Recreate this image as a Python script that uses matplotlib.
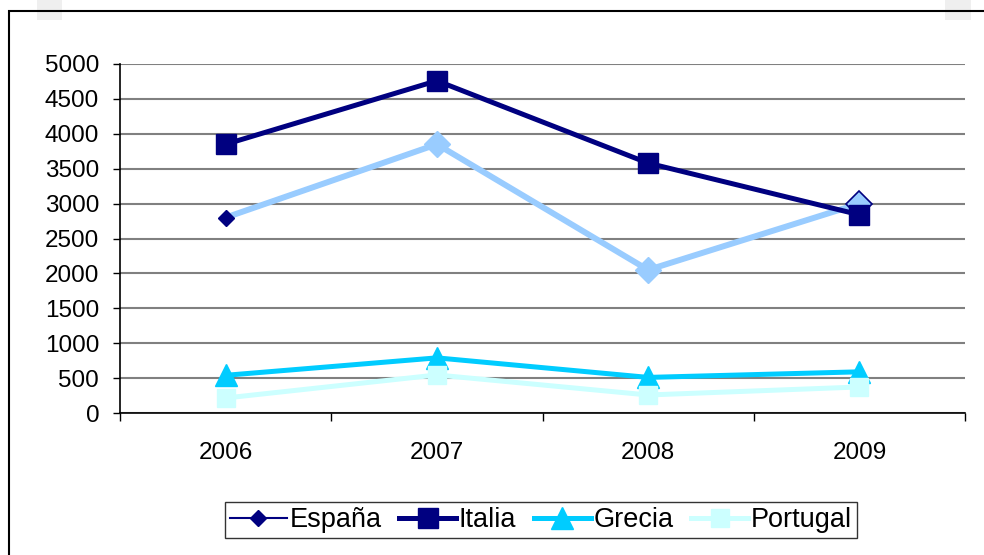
import matplotlib
matplotlib.use("Agg")
import matplotlib.pyplot as plt
from matplotlib.patches import Rectangle
from matplotlib.lines import Line2D

plt.rcParams['font.family'] = ['Liberation Sans', 'DejaVu Sans']

# ---- data ----
years = ['2006', '2007', '2008', '2009']
espana = [2800, 3850, 2050, 3000]
italia = [3850, 4760, 3580, 2840]
grecia = [540, 790, 510, 590]
portugal = [215, 545, 258, 373]

navy = '#000080'
light_blue = '#99CCFF'
cyan = '#00CCFF'
pale = '#CCFFFF'

W, H = 984, 555
fig = plt.figure(figsize=(W / 100, H / 100), dpi=100)
ax = fig.add_axes([120 / W, 1 - 413 / H, 845 / W, 349 / H])

x = list(range(len(years)))

# España: line drawn in light blue, point styles differ per point
ax.plot(x, espana, color=light_blue, lw=4.3, zorder=3, solid_joinstyle='miter')
ax.plot(x[1:3], espana[1:3], ls='none', marker='D', ms=13, color=light_blue, zorder=3)
ax.plot(x[0], espana[0], ls='none', marker='D', ms=8, color=navy, zorder=3)
ax.plot(x[3], espana[3], ls='none', marker='D', ms=13, mfc=light_blue, mec=navy,
        mew=1.2, zorder=3)

ax.plot(x, italia, color=navy, lw=3.6, marker='s', ms=14, zorder=4)
ax.plot(x, grecia, color=cyan, lw=3.6, marker='^', ms=16, zorder=5)
ax.plot(x, portugal, color=pale, lw=3.6, marker='s', ms=13, zorder=6)

ax.set_xlim(-0.5, 3.5)
ax.set_ylim(0, 5000)
ax.set_yticks(range(0, 5001, 500))
ax.yaxis.grid(True, color='#808080', lw=1.5)
ax.set_axisbelow(True)

ax.set_xticks(x)
ax.set_xticklabels(years)
ax.set_xticks([-0.5, 0.5, 1.5, 2.5, 3.5], minor=True)
ax.tick_params(axis='x', which='major', length=0, pad=21, labelsize=17.5)
ax.tick_params(axis='x', which='minor', length=6, width=1, direction='out')
ax.tick_params(axis='y', length=5, width=1, pad=10, labelsize=17.5, direction='out')

for s in ['top', 'right']:
    ax.spines[s].set_visible(False)
for s in ['left', 'bottom']:
    ax.spines[s].set_color('black')
    ax.spines[s].set_linewidth(1.2)

handles = [
    Line2D([], [], color=navy, lw=1.5, marker='D', ms=8),
    Line2D([], [], color=navy, lw=3.6, marker='s', ms=14),
    Line2D([], [], color=cyan, lw=3.6, marker='^', ms=16),
    Line2D([], [], color=pale, lw=3.6, marker='s', ms=13),
]
leg = fig.legend(handles, ['España', 'Italia', 'Grecia', 'Portugal'],
                 loc='center', bbox_to_anchor=(541 / W, 1 - 520 / H), ncol=4,
                 fontsize=19.5, frameon=True, fancybox=False, handlelength=2.1,
                 handletextpad=0.1, columnspacing=0.65, borderpad=0.2)
leg.get_frame().set_edgecolor('black')
leg.get_frame().set_linewidth(1.0)

# outer chart frame and small grey blocks at top
fig.add_artist(Rectangle((37 / W, 1 - 20 / H), 25 / W, 20 / H, transform=fig.transFigure,
                         color='#EFEFEF', lw=0, zorder=0))
fig.add_artist(Rectangle((945 / W, 1 - 20 / H), 26 / W, 20 / H, transform=fig.transFigure,
                         color='#EFEFEF', lw=0, zorder=0))
fig.add_artist(Rectangle((9 / W, -0.1), 1.2, 1.1 - 11 / H, transform=fig.transFigure,
                         fill=False, ec='black', lw=1.5, zorder=1))

fig.savefig('out.png', dpi=100)
